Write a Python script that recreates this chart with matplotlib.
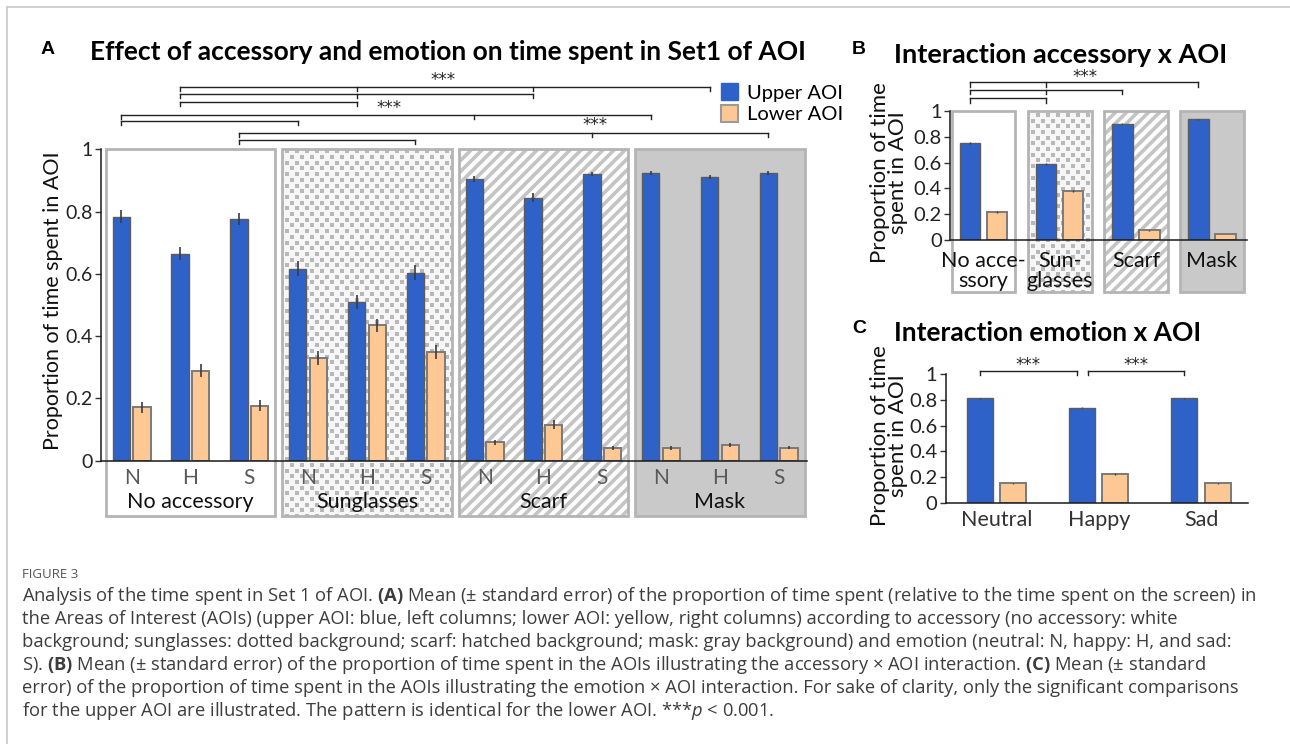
import numpy as np
import matplotlib.pyplot as plt
from matplotlib.patches import Rectangle, Patch

W, H = 1290, 744
BLUE = '#2f62c8'
ORANGE = '#fec895'
EDGE = '#7a7a7a'
BOXEDGE = '#b4b4b4'
FONT = 'Lato'

# ---- panel A data (4 accessories x 3 emotions) ----
accessories = ['No accessory', 'Sunglasses', 'Scarf', 'Mask']
emotions = ['N', 'H', 'S']
upper_a = [0.784, 0.665, 0.777, 0.617, 0.510, 0.604, 0.904, 0.845, 0.920, 0.923, 0.911, 0.924]
upper_a_err = [0.020, 0.022, 0.020, 0.023, 0.023, 0.023, 0.009, 0.014, 0.006, 0.006, 0.007, 0.005]
lower_a = [0.171, 0.289, 0.177, 0.330, 0.435, 0.349, 0.059, 0.116, 0.041, 0.041, 0.050, 0.041]
lower_a_err = [0.018, 0.021, 0.018, 0.023, 0.021, 0.022, 0.009, 0.014, 0.006, 0.006, 0.007, 0.005]
# significance brackets: bar slots joined, height
brackets_a = [([1, 4, 7, 10], 1.201), ([1, 4, 7], 1.177), ([1, 4], 1.153),
              ([0, 6, 9], 1.110), ([0, 3], 1.092),
              ([2, 8, 11], 1.053), ([2, 5], 1.030)]
stars_a = [(5.30, 1.222), (4.37, 1.133), (7.88, 1.078)]

# ---- panel B data ----
acc_labels_b = ['No acce-\nssory', 'Sun-\nglasses', 'Scarf', 'Mask']
upper_b = [0.754, 0.587, 0.902, 0.935]
upper_b_err = [0.008, 0.007, 0.006, 0.004]
lower_b = [0.214, 0.377, 0.075, 0.047]
lower_b_err = [0.008, 0.008, 0.004, 0.003]
brackets_b = [([0, 1, 3], 1.222), ([0, 1, 2], 1.163), ([0, 1], 1.098)]
stars_b = [(1.33, 1.266)]

# ---- panel C data ----
emotion_labels_c = ['Neutral', 'Happy', 'Sad']
upper_c = [0.813, 0.740, 0.813]
upper_c_err = [0.006, 0.006, 0.006]
lower_c = [0.151, 0.223, 0.151]
lower_c_err = [0.006, 0.007, 0.006]
brackets_c = [([0, 1], 1.026), ([1, 2], 1.026)]
stars_c = [(0.31, 1.07), (1.36, 1.07)]

caption_lines = [
    r"Analysis of the time spent in Set 1 of AOI. $\mathbf{(A)}$ Mean (± standard error) of the proportion of time spent (relative to the time spent on the screen) in",
    "the Areas of Interest (AOIs) (upper AOI: blue, left columns; lower AOI: yellow, right columns) according to accessory (no accessory: white",
    "background; sunglasses: dotted background; scarf: hatched background; mask: gray background) and emotion (neutral: N, happy: H, and sad:",
    r"S). $\mathbf{(B)}$ Mean (± standard error) of the proportion of time spent in the AOIs illustrating the accessory × AOI interaction. $\mathbf{(C)}$ Mean (± standard",
    "error) of the proportion of time spent in the AOIs illustrating the emotion × AOI interaction. For sake of clarity, only the significant comparisons",
    r"for the upper AOI are illustrated. The pattern is identical for the lower AOI. ***$\mathit{p}$ < 0.001.",
]

plt.rcParams['mathtext.fontset'] = 'custom'
plt.rcParams['mathtext.rm'] = 'Open Sans'
plt.rcParams['mathtext.bf'] = 'Open Sans:bold'
plt.rcParams['mathtext.it'] = 'Open Sans:italic'


def px(x, y):
    return x / W, 1 - y / H


def ax_px(left, top, right, bottom):
    return [left / W, 1 - bottom / H, (right - left) / W, (bottom - top) / H]


fig = plt.figure(figsize=(W / 100, H / 100), dpi=100)

# outer frame lines
fig.add_artist(plt.Line2D([7 / W, 1], [1 - 6.5 / H] * 2, color='#c8c8c8', lw=1.2))
fig.add_artist(plt.Line2D([7 / W] * 2, [0, 1 - 6.5 / H], color='#c8c8c8', lw=1.2))


def style_axes(ax, ticksize):
    for s in ['top', 'right']:
        ax.spines[s].set_visible(False)
    for s in ['left', 'bottom']:
        ax.spines[s].set_linewidth(1.1)
        ax.spines[s].set_color('#1a1a1a')
        ax.spines[s].set_zorder(5)
    ax.set_ylim(0, 1)
    ax.set_yticks([0, 0.2, 0.4, 0.6, 0.8, 1])
    ax.set_yticklabels(['0', '0.2', '0.4', '0.6', '0.8', '1'])
    ax.tick_params(axis='y', length=4, width=1, color='#333333', labelsize=ticksize,
                   labelcolor='#222222', pad=2)
    ax.tick_params(axis='x', length=0)
    ax.patch.set_visible(False)
    for lab in ax.get_yticklabels():
        lab.set_fontfamily(FONT)


def draw_box(ax, x0, x1, y0, y1, kind):
    face = {'plain': 'white', 'dots': '#f6f6f6', 'stripes': 'white', 'gray': '#c9c9c9'}[kind]
    rect = Rectangle((x0, y0), x1 - x0, y1 - y0, facecolor=face, edgecolor='none',
                     transform=ax.transData, clip_on=False, zorder=0.5)
    ax.add_patch(rect)
    to_in = ax.transData + fig.dpi_scale_trans.inverted()
    (xa, ya), (xb, yb) = to_in.transform([(x0, y0), (x1, y1)])
    if kind == 'stripes':
        for c in np.arange(xa - yb - 0.2, xb - ya + 0.2, 0.11):
            ln, = ax.plot([c + ya - 0.1, c + yb + 0.1], [ya - 0.1, yb + 0.1], color='#c4c4c4',
                          lw=2.6, transform=fig.dpi_scale_trans, zorder=0.6, solid_capstyle='butt')
            ln.set_clip_path(rect)
    elif kind == 'dots':
        xs, ys = [], []
        for i, yy in enumerate(np.arange(ya, yb + 0.06, 0.057)):
            off = 0.05 if i % 2 else 0.0
            for xx in np.arange(xa - 0.05 + off, xb + 0.05, 0.10):
                xs.append(xx)
                ys.append(yy)
        sc = ax.scatter(xs, ys, marker='s', s=7.5, c='#b8b8b8', linewidths=0,
                        transform=fig.dpi_scale_trans, zorder=0.6)
        sc.set_clip_path(rect)
    edge = Rectangle((x0, y0), x1 - x0, y1 - y0, facecolor='none', edgecolor=BOXEDGE, lw=2.0,
                     transform=ax.transData, clip_on=False, zorder=1)
    ax.add_patch(edge)


def draw_bracket(ax, xs, y, tick, lw=1.0):
    ax.plot([min(xs), max(xs)], [y, y], color='#222222', lw=lw, clip_on=False, zorder=6)
    for x in xs:
        ax.plot([x, x], [y, y - tick], color='#222222', lw=lw, clip_on=False, zorder=6)


def stars(ax, x, y):
    ax.text(x, y, '***', ha='center', va='center', fontsize=12, fontfamily='DejaVu Sans',
            color='#222222')


kinds = ['plain', 'dots', 'stripes', 'gray']

# ================= Panel A =================
axA = fig.add_axes(ax_px(101, 149.3, 807, 460.7))
style_axes(axA, 14)
axA.set_xlim(-0.52, 11.48)
slots = np.arange(len(upper_a))
bw, off = 0.295, 0.175
for g in range(4):
    draw_box(axA, 3 * g - 0.44, 3 * g + 2.44, -0.178, 1.0, kinds[g])
axA.bar(slots - off, upper_a, bw, color=BLUE, edgecolor='#5c5c5c', lw=1.0, zorder=3)
axA.bar(slots + off, lower_a, bw, color=ORANGE, edgecolor=EDGE, lw=1.4, zorder=3)
axA.errorbar(slots - off, upper_a, yerr=upper_a_err, fmt='none', ecolor='#3c3c3c', elinewidth=1.2, zorder=4)
axA.errorbar(slots + off, lower_a, yerr=lower_a_err, fmt='none', ecolor='#3c3c3c', elinewidth=1.2, zorder=4)
axA.set_xticks(slots)
axA.set_xticklabels(emotions * 4, fontsize=15, color='#595959', fontfamily=FONT)
axA.tick_params(axis='x', pad=5)
for g, name in enumerate(accessories):
    axA.text(3 * g + 1, -0.132, name, ha='center', va='center', fontsize=15.5,
             fontfamily=FONT, color='#111111')
tickA = 4.3 / 311.4
for xs, y in brackets_a:
    draw_bracket(axA, [s - off for s in xs], y, tickA)
for x, y in stars_a:
    stars(axA, x, y)

fig.text(*px(53, 301), 'Proportion of time spent in AOI', rotation=90, ha='center', va='center',
         fontsize=15.5, fontfamily=FONT, color='#111111')
fig.text(*px(48, 50), 'A', ha='center', va='center', fontsize=14, fontweight='bold',
         fontfamily='Liberation Sans')
fig.text(*px(90, 52), 'Effect of accessory and emotion on time spent in Set1 of AOI', ha='left',
         va='center', fontsize=19.0, fontweight='bold', fontfamily=FONT)
fig.legend(handles=[Patch(facecolor=BLUE, edgecolor=BLUE),
                    Patch(facecolor=ORANGE, edgecolor='#9a9a9a', lw=1.5)],
           labels=['Upper AOI', 'Lower AOI'], loc='upper left', bbox_to_anchor=px(721, 83),
           frameon=False, handlelength=0.85, handleheight=0.95, handletextpad=0.45,
           labelspacing=0.15, borderpad=0, borderaxespad=0,
           prop={'family': FONT, 'size': 14.5})

# ================= Panel B =================
axB = fig.add_axes(ax_px(950, 111, 1247, 240))
style_axes(axB, 14.5)
axB.set_xlim(-0.44, 3.46)
sb = np.arange(len(upper_b))
bwb, offb = 0.27, 0.178
for g in range(4):
    draw_box(axB, g - 0.42, g + 0.42, -0.40, 1.0, kinds[g])
axB.bar(sb - offb, upper_b, bwb, color=BLUE, edgecolor='#5c5c5c', lw=1.0, zorder=3)
axB.bar(sb + offb, lower_b, bwb, color=ORANGE, edgecolor=EDGE, lw=1.4, zorder=3)
axB.errorbar(sb - offb, upper_b, yerr=upper_b_err, fmt='none', ecolor='#3c3c3c', elinewidth=1.0, zorder=4)
axB.errorbar(sb + offb, lower_b, yerr=lower_b_err, fmt='none', ecolor='#3c3c3c', elinewidth=1.0, zorder=4)
axB.set_xticks([])
for g, name in enumerate(acc_labels_b):
    axB.text(g, -0.085, name, ha='center', va='top', fontsize=15.5, fontfamily=FONT,
             linespacing=1.0, color='#111111')
tickB = 4.3 / 129
for xs, y in brackets_b:
    draw_bracket(axB, [s - offb for s in xs], y, tickB)
for x, y in stars_b:
    stars(axB, x, y)

fig.text(*px(889, 173), 'Proportion of time\nspent in AOI', rotation=90, ha='center', va='center',
         fontsize=16, fontfamily=FONT, linespacing=0.92, color='#111111')
fig.text(*px(859, 50), 'B', ha='center', va='center', fontsize=14, fontweight='bold',
         fontfamily='Liberation Sans')
fig.text(*px(894, 55), 'Interaction accessory x AOI', ha='left', va='center', fontsize=19.5,
         fontweight='bold', fontfamily=FONT)

# ================= Panel C =================
axC = fig.add_axes(ax_px(945.7, 374.3, 1248, 502.7))
style_axes(axC, 14.5)
axC.set_xlim(-0.5, 2.46)
sc_ = np.arange(len(upper_c))
bwc, offc = 0.255, 0.162
axC.bar(sc_ - offc, upper_c, bwc, color=BLUE, edgecolor='#5c5c5c', lw=1.0, zorder=3)
axC.bar(sc_ + offc, lower_c, bwc, color=ORANGE, edgecolor=EDGE, lw=1.4, zorder=3)
axC.errorbar(sc_ - offc, upper_c, yerr=upper_c_err, fmt='none', ecolor='#3c3c3c', elinewidth=1.0, zorder=4)
axC.errorbar(sc_ + offc, lower_c, yerr=lower_c_err, fmt='none', ecolor='#3c3c3c', elinewidth=1.0, zorder=4)
axC.set_xticks(sc_)
axC.set_xticklabels(emotion_labels_c, fontsize=15.5, color='#333333', fontfamily=FONT)
axC.tick_params(axis='x', pad=5)
tickC = 4.3 / 128.4
gap = 0.054
for (a, b), y in brackets_c:
    x0 = a - offc + (gap if a == 1 else 0)
    x1 = b - offc - (gap if b == 1 else 0)
    draw_bracket(axC, [x0, x1], y, tickC)
for x, y in stars_c:
    stars(axC, x, y)

fig.text(*px(889, 436), 'Proportion of time\nspent in AOI', rotation=90, ha='center', va='center',
         fontsize=16, fontfamily=FONT, linespacing=0.92, color='#111111')
fig.text(*px(859, 328), 'C', ha='center', va='center', fontsize=14, fontweight='bold',
         fontfamily='Liberation Sans')
fig.text(*px(894, 333), 'Interaction emotion x AOI', ha='left', va='center', fontsize=19.0,
         fontweight='bold', fontfamily=FONT)

# ================= Caption =================
fig.text(*px(22, 575), 'FIGURE 3', ha='left', va='center', fontsize=9.5, color='#555555',
         fontfamily='Open Sans')
for i, line in enumerate(caption_lines):
    fig.text(*px(22, 601 + 23 * i), line, ha='left', va='baseline', fontsize=13.2,
             color='#3d3d3d', fontfamily='Open Sans')

fig.savefig('out.png', dpi=100)
